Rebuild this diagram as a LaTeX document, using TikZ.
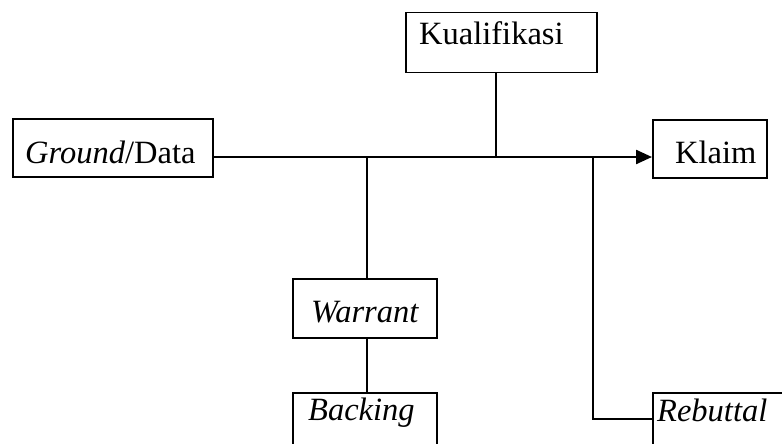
\documentclass[tikz,border=0pt]{standalone}
\usepackage{fontspec}
\setmainfont{Liberation Serif}
\usetikzlibrary{arrows.meta}
\begin{document}
\begin{tikzpicture}[x=1pt,y=-1pt,
  boxnode/.style={draw,line width=1.5pt,inner sep=0pt,anchor=north west},
  lbl/.style={anchor=base west,inner sep=0pt,font=\fontsize{32.5}{38}\selectfont},
  conn/.style={line width=1.4pt},
  mainconn/.style={line width=2.4pt,-{Triangle[length=16pt,width=14pt]}}]
\useasboundingbox (0,0) rectangle (782,444);
\clip (0,0) rectangle (782,444);
% boxes
\node[boxnode,minimum width=191pt,minimum height=60pt] (kual) at (405,12) {};
\node[boxnode,minimum width=200pt,minimum height=58pt] (ground) at (12,118) {};
\node[boxnode,minimum width=114pt,minimum height=58pt] (klaim) at (652,119) {};
\node[boxnode,minimum width=144pt,minimum height=59pt] (warrant) at (292,278) {};
\node[boxnode,minimum width=144pt,minimum height=80pt] (backing) at (292,392) {};
\node[boxnode,minimum width=160pt,minimum height=80pt] (rebuttal) at (652,392) {};
% texts
\node[lbl] (tkual) at (419,45) {Kualifikasi};
\node[lbl] (tground) at (25,163) {\textit{Ground}/Data};
\node[lbl] (tklaim) at (675,163) {Klaim};
\node[lbl] (twarrant) at (311,322) {\textit{Warrant}};
\node[lbl] (tbacking) at (308,420) {\textit{Backing}};
\node[lbl] (trebuttal) at (657,421) {\textit{Rebuttal}};
% junctions
\coordinate (jw) at (367,157);
\coordinate (jk) at (496,157);
\coordinate (jr) at (593,157);
\coordinate (rb) at (593,419);
% connectors
\draw[mainconn] (ground.east |- jw) -- (klaim.west |- jw);
\draw[conn] (kual.south -| jk) -- (jk);
\draw[conn] (jw) -- (warrant.north -| jw);
\draw[conn] (warrant.south -| jw) -- (backing.north -| jw);
\draw[conn] (jr) -- (rb) -- (rebuttal.west |- rb);
\end{tikzpicture}
\end{document}
